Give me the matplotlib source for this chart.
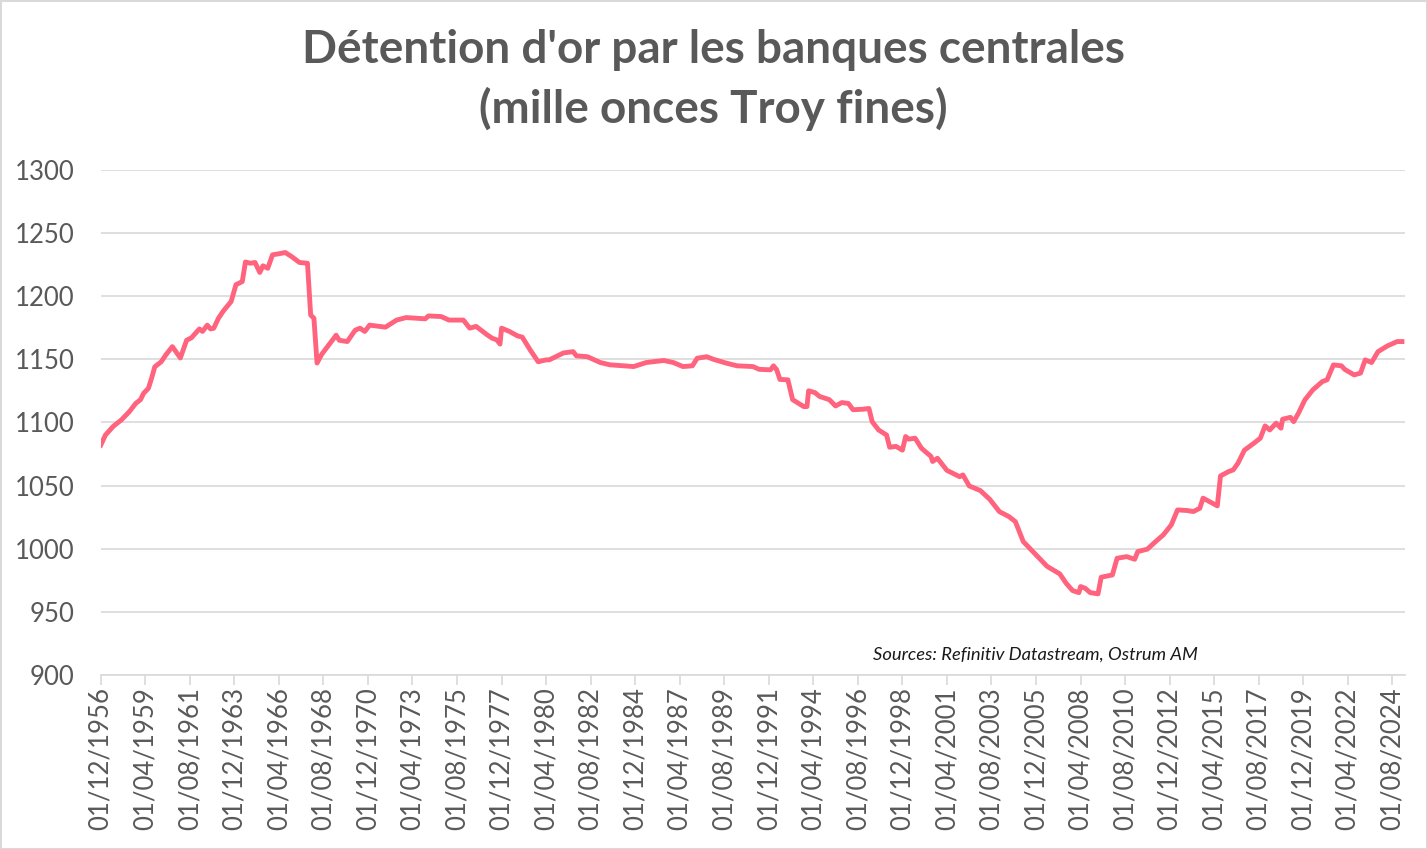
import matplotlib
matplotlib.use("Agg")
import matplotlib.pyplot as plt
import pandas as pd

# monthly readings (start of month), thousand fine troy ounces
dates = [
    "1956-12", "1957-03", "1957-08", "1958-01", "1958-06", "1958-10", "1959-01", "1959-03",
    "1959-06", "1959-08", "1959-10", "1960-02", "1960-05", "1960-09", "1961-02", "1961-06",
    "1961-09", "1962-02", "1962-04", "1962-07", "1962-09", "1962-11", "1963-02", "1963-05",
    "1963-10", "1964-01", "1964-05", "1964-07", "1964-10", "1965-01", "1965-04", "1965-06",
    "1965-09", "1965-12", "1966-04", "1966-08", "1966-12", "1967-05", "1967-10", "1967-12",
    "1968-02", "1968-04", "1968-07", "1969-04", "1969-06", "1969-11", "1970-04", "1970-07",
    "1970-10", "1971-01", "1971-11", "1972-06", "1972-12", "1973-12", "1974-02", "1974-10",
    "1975-03", "1975-12", "1976-04", "1976-08", "1977-03", "1977-06", "1977-09", "1977-11",
    "1977-12", "1978-05", "1978-10", "1979-01", "1979-06", "1979-11", "1980-04", "1980-06",
    "1981-03", "1981-09", "1981-11", "1982-06", "1983-02", "1983-08", "1984-11", "1985-07",
    "1986-06", "1986-12", "1987-06", "1987-12", "1988-03", "1988-09", "1989-01", "1989-09",
    "1990-04", "1991-02", "1991-06", "1992-01", "1992-03", "1992-05", "1992-07", "1992-12",
    "1993-03", "1993-10", "1993-12", "1994-01", "1994-05", "1994-08", "1995-02", "1995-06",
    "1995-10", "1996-02", "1996-05", "1996-11", "1997-03", "1997-05", "1997-09", "1998-02",
    "1998-04", "1998-08", "1998-12", "1999-02", "1999-04", "1999-08", "1999-12", "2000-06",
    "2000-07", "2000-10", "2001-04", "2001-12", "2002-02", "2002-06", "2003-01", "2003-07",
    "2004-01", "2004-07", "2004-11", "2005-04", "2005-10", "2006-07", "2007-03", "2007-07",
    "2007-11", "2008-03", "2008-04", "2008-07", "2008-10", "2009-03", "2009-05", "2009-12",
    "2010-03", "2010-09", "2011-02", "2011-04", "2011-10", "2012-02", "2012-08", "2013-01",
    "2013-05", "2013-11", "2014-03", "2014-07", "2014-09", "2015-01", "2015-06", "2015-08",
    "2016-01", "2016-04", "2016-07", "2016-11", "2017-05", "2017-09", "2017-12", "2018-03",
    "2018-07", "2018-10", "2018-11", "2019-04", "2019-06", "2019-09", "2020-01", "2020-06",
    "2020-12", "2021-03", "2021-07", "2021-12", "2022-02", "2022-08", "2022-12", "2023-03",
    "2023-07", "2023-11", "2024-05", "2024-11", "2025-02",
]
values = [
    1082, 1090, 1097, 1102, 1108.5, 1115, 1118, 1123,
    1127, 1135, 1144, 1148, 1153.5, 1160, 1151, 1165,
    1167, 1174, 1172, 1177, 1174, 1174.5, 1182.5, 1188,
    1195.7, 1209, 1211.5, 1227, 1226, 1226.6, 1218.7, 1224,
    1222, 1232.7, 1233.5, 1234.5, 1231.3, 1226.6, 1226, 1185,
    1182.5, 1147, 1154, 1169, 1165, 1164, 1173, 1174.6,
    1172, 1177, 1175.4, 1181, 1183, 1182, 1184.3, 1183.8,
    1181, 1181, 1174.6, 1176, 1169.3, 1166.7, 1165.3, 1162,
    1174.6, 1172, 1168.5, 1167.5, 1157.4, 1148, 1149.5, 1149.5,
    1155, 1156, 1152.7, 1152, 1147.4, 1145.6, 1144.2, 1147.4,
    1149, 1147.4, 1144.2, 1144.8, 1150.8, 1152, 1150, 1147,
    1144.8, 1144.2, 1142, 1141.6, 1144.8, 1141.6, 1134, 1133.7,
    1118, 1112.5, 1112.5, 1125, 1123.6, 1120.5, 1118, 1113,
    1115.7, 1115, 1110, 1110.4, 1111, 1100.6, 1094, 1090,
    1080.3, 1081, 1078, 1088.8, 1086.7, 1087.5, 1079.5, 1073,
    1069, 1071.6, 1062, 1057, 1058.4, 1049.7, 1046, 1039,
    1029.3, 1025.4, 1021.4, 1005.6, 997.7, 986, 980, 972.6,
    966.8, 965.2, 970, 968.6, 965.2, 964.2, 977.4, 979.2,
    992.4, 993.7, 991.6, 997.7, 999.6, 1004.3, 1010.9, 1018.8,
    1030.7, 1030.2, 1029.4, 1032, 1040, 1037.3, 1033.9, 1057.6,
    1061, 1062.4, 1067.7, 1078, 1083.5, 1087.5, 1097.2, 1094,
    1099.4, 1095.4, 1102.5, 1104, 1100.6, 1107.3, 1117.8, 1125.7,
    1132.3, 1133.7, 1145.5, 1144.8, 1142, 1137.6, 1139, 1149.5,
    1147.4, 1156, 1160.6, 1164, 1164,
]

title = "Détention d'or par les banques centrales\n(mille onces Troy fines)"
source = "Sources: Refinitiv Datastream, Ostrum AM"
grey = "#595959"

plt.rcParams['font.family'] = ['Lato', 'DejaVu Sans']

x = pd.to_datetime(dates)
ticks = pd.date_range("1956-12-01", periods=30, freq="28MS")

fig = plt.figure(figsize=(14.27, 8.49), dpi=100)
fig.patch.set_edgecolor("#d9d9d9")
fig.patch.set_linewidth(2)
ax = fig.add_axes([0.0706, 0.205, 0.914, 0.595])

ax.plot(x, values, color="#FF637D", lw=3.5, solid_joinstyle="round")

ax.set_ylim(900, 1300)
ax.set_yticks(range(900, 1301, 50))
ax.set_xlim(pd.Timestamp("1956-12-01"), pd.Timestamp("2025-04-01"))
ax.set_xticks(ticks)
ax.set_xticklabels([d.strftime("%d/%m/%Y") for d in ticks], rotation=90)

ax.grid(axis="y", color="#d9d9d9", lw=1.2)
ax.set_axisbelow(True)
for s in ["left", "right", "top"]:
    ax.spines[s].set_visible(False)
ax.spines["bottom"].set_color("#d9d9d9")
ax.spines["bottom"].set_linewidth(1.2)
ax.tick_params(axis="y", length=0, pad=19, labelsize=18.5, labelcolor=grey)
ax.tick_params(axis="x", length=7, width=1.2, color="#d9d9d9", pad=2,
               labelsize=18.5, labelcolor=grey)

fig.text(0.5, 0.906, title, ha="center", va="center", fontsize=33,
         fontweight="bold", color=grey, linespacing=1.45)
fig.text(873 / 1427, 1 - 655 / 849, source, ha="left", va="center",
         fontsize=13.2, style="italic", color="#1a1a1a")

fig.savefig("out.png", dpi=100)
